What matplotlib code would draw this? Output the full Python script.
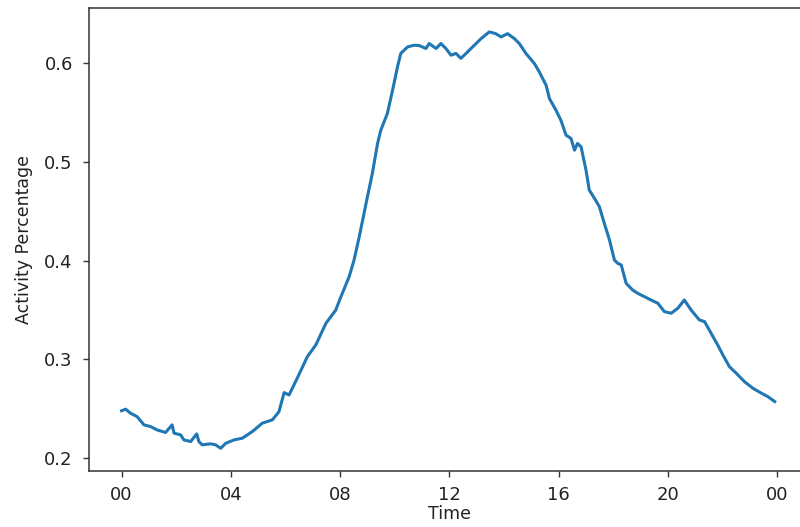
import matplotlib
matplotlib.use("Agg")

import matplotlib.pyplot as plt
import matplotlib.dates as mdates
import pandas as pd

# hours since midnight
hours = [
    0.00, 0.15, 0.33, 0.57, 0.82, 1.06, 1.30, 1.61, 1.85, 1.92, 2.16, 2.28,
    2.53, 2.75, 2.83, 2.95, 3.26, 3.44, 3.63, 3.81, 4.12, 4.42, 4.79, 5.15,
    5.52, 5.76, 5.95, 6.13, 6.43, 6.80, 7.11, 7.48, 7.84, 8.03, 8.33, 8.51,
    8.70, 9.00, 9.18, 9.37, 9.49, 9.73, 9.92, 10.10, 10.22, 10.47, 10.71,
    10.89, 11.14, 11.26, 11.51, 11.69, 11.87, 12.06, 12.24, 12.42, 12.61,
    12.85, 13.16, 13.46, 13.70, 13.89, 14.13, 14.38, 14.56, 14.80, 15.11,
    15.29, 15.54, 15.66, 15.90, 16.08, 16.27, 16.45, 16.58, 16.69, 16.82,
    17.00, 17.12, 17.31, 17.49, 17.67, 17.86, 18.04, 18.16, 18.29, 18.47,
    18.71, 18.89, 19.14, 19.38, 19.63, 19.87, 20.12, 20.36, 20.60, 20.85,
    21.15, 21.34, 21.58, 21.82, 22.01, 22.25, 22.50, 22.80, 23.11, 23.42,
    23.66, 23.91,
]

activity = [
    0.248, 0.2496, 0.2455, 0.242, 0.2337, 0.232, 0.2286, 0.226, 0.2337, 0.2253,
    0.2236, 0.2185, 0.2168, 0.2246, 0.2168, 0.2135, 0.2145, 0.2135, 0.210,
    0.215, 0.2185, 0.2202, 0.227, 0.2354, 0.2388, 0.247, 0.2664, 0.264, 0.281,
    0.3028, 0.3147, 0.3366, 0.350, 0.3636, 0.3838, 0.4007, 0.4243, 0.4648,
    0.4885, 0.5188, 0.5323, 0.5492, 0.5728, 0.5964, 0.610, 0.6166, 0.6183,
    0.618, 0.615, 0.620, 0.615, 0.620, 0.615, 0.6082, 0.610, 0.605, 0.610,
    0.6166, 0.625, 0.6318, 0.630, 0.6267, 0.630, 0.625, 0.620, 0.610, 0.5998,
    0.5913, 0.5778, 0.5644, 0.5525, 0.5424, 0.5272, 0.5239, 0.512, 0.5188,
    0.5154, 0.4918, 0.4716, 0.4632, 0.4547, 0.4379, 0.421, 0.4007, 0.3974,
    0.3957, 0.3771, 0.3703, 0.367, 0.3636, 0.3602, 0.3569, 0.3484, 0.3468,
    0.3518, 0.3602, 0.350, 0.340, 0.3383, 0.3265, 0.3147, 0.3046, 0.2927,
    0.286, 0.2775, 0.2708, 0.2658, 0.2623, 0.2573,
]

times = pd.Timestamp("2020-01-01") + pd.to_timedelta(hours, unit="h")

fig = plt.figure(figsize=(8, 5.27), dpi=100)
# the reference is cropped on the right, so the axes run past the edge
ax = fig.add_axes([0.111, 0.1063, 0.9015, 0.8785])

ax.plot(times, activity, color="#1f77b4", linewidth=2.2)

ax.set_xlim(pd.Timestamp("2020-01-01") - pd.Timedelta(hours=1.2),
            pd.Timestamp("2020-01-02") + pd.Timedelta(hours=1.2))
ax.set_ylim(0.187, 0.656)

ax.xaxis.set_major_locator(mdates.HourLocator(byhour=[0, 4, 8, 12, 16, 20]))
ax.xaxis.set_major_formatter(mdates.DateFormatter("%H"))
ax.set_yticks([0.2, 0.3, 0.4, 0.5, 0.6])

ax.tick_params(axis="both", labelsize=13, length=4.5, width=1.0,
               color="#333333", labelcolor="#222222")
ax.tick_params(axis="x", pad=6)
ax.tick_params(axis="y", pad=7)

for spine in ax.spines.values():
    spine.set_linewidth(1.1)
    spine.set_color("#333333")

ax.set_xlabel("Time", fontsize=12.5, labelpad=1, color="#222222")
ax.set_ylabel("Activity Percentage", fontsize=12.5, labelpad=8, color="#222222")

fig.savefig("out.png", dpi=100)
plt.close(fig)
